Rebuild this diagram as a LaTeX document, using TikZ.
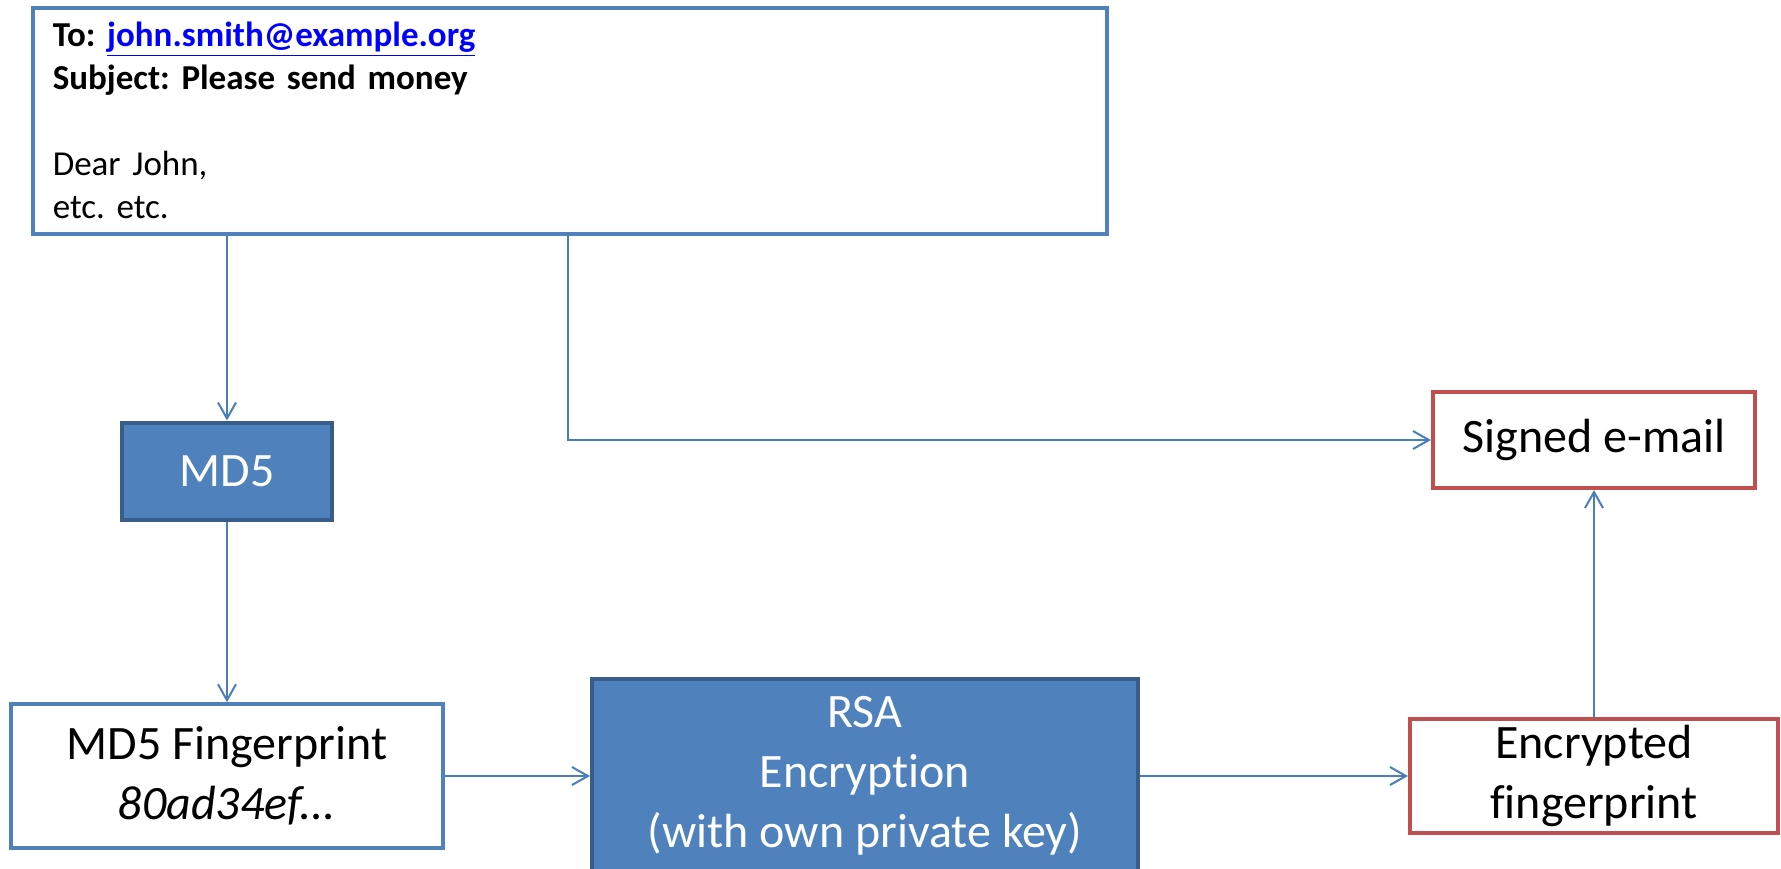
\documentclass[tikz,border=0pt]{standalone}
\usepackage{fontspec}
\setmainfont{Carlito}[Ligatures=NoCommon]
\usetikzlibrary{arrows.meta}
\definecolor{boxblue}{HTML}{4F81BD}
\definecolor{boxedge}{HTML}{385D8A}
\definecolor{boxred}{HTML}{C0504D}
\definecolor{flowblue}{HTML}{4A7EBB}
\definecolor{linkblue}{HTML}{0000FF}
\frenchspacing

\begin{document}
\begin{tikzpicture}[x=0.5pt,y=-0.5pt]
	\tikzset{
		process/.style={draw=boxedge,line width=2pt,fill=boxblue,text=white,align=center,font=\fontsize{24}{30}\selectfont},
		data/.style={draw=boxblue,line width=1.75pt,fill=white,align=center,font=\fontsize{24}{30}\selectfont},
		result/.style={draw=boxred,line width=2pt,fill=white,align=center,font=\fontsize{24}{30}\selectfont},
		flow/.style={draw=flowblue,line width=1pt,-{Straight Barb[length=8pt,width=9pt]}}
	}
	\useasboundingbox (0,0) rectangle (1781,868);

	% the message
	\node[data,anchor=north west,minimum width=537pt,minimum height=113pt,
	      text width=517pt,inner xsep=10pt,align=left,
	      font=\fontsize{17.5}{21.5}\selectfont] (mail) at (31,6)
	    {\textbf{To: \textcolor{linkblue}{\underline{john.smith@example.org}}}\\
	     \textbf{Subject: Please send money}\\[21.5pt]
	     Dear John,\\
	     etc. etc.};
	\coordinate (split) at (568,232);

	\node[process,minimum width=105pt,minimum height=48.5pt] (md5) at (227,471) {MD5};
	\node[data,minimum width=216pt,minimum height=72pt] (fp) at (227,776) {MD5 Fingerprint\\\textit{80ad34ef...}};
	\node[process,minimum width=273pt,minimum height=97pt] (rsa) at (865,776) {RSA\\Encryption\\(with own private key)};
	\node[result,minimum width=184pt,minimum height=57pt] (enc) at (1594,776) {Encrypted\\fingerprint};
	\node[result,minimum width=161pt,minimum height=48pt] (signed) at (1594,440) {Signed e-mail};

	\draw[flow] (md5.north |- mail.south) -- (md5.north);
	\draw[flow] (md5) -- (fp);
	\draw[flow] (fp) -- (rsa);
	\draw[flow] (rsa) -- (enc);
	\draw[flow] (enc) -- (signed);
	\draw[flow] (split) |- (signed);
\end{tikzpicture}
\end{document}
